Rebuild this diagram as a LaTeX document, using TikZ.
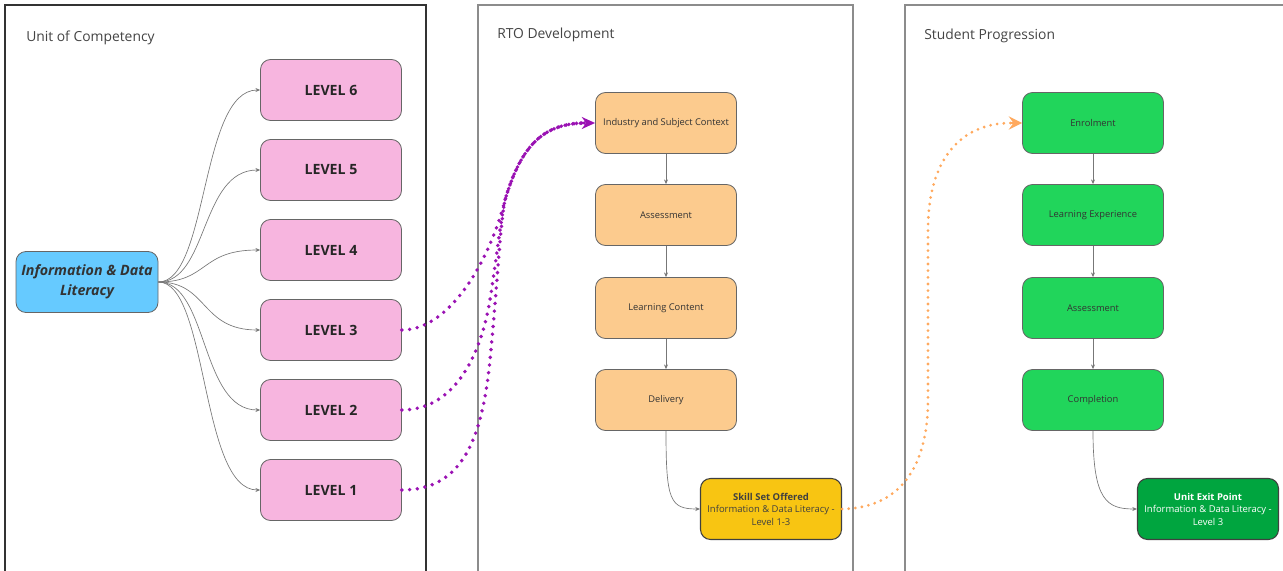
\documentclass[tikz,border=0pt]{standalone}
\usepackage{fontspec}
\setmainfont{Open Sans}
\usetikzlibrary{arrows.meta}
\definecolor{panelA}{HTML}{333333}
\definecolor{panelB}{HTML}{8C8C8C}
\definecolor{txtgray}{HTML}{444444}
\definecolor{pinkfill}{HTML}{F7B5DF}
\definecolor{bluefill}{HTML}{66CAFF}
\definecolor{orangefill}{HTML}{FCCB8E}
\definecolor{yellowfill}{HTML}{F8C512}
\definecolor{greenfill}{HTML}{21D55B}
\definecolor{darkgreen}{HTML}{00A53F}
\definecolor{purplelink}{HTML}{9A12B3}
\definecolor{orangelink}{HTML}{FFA95E}
\definecolor{linkgray}{HTML}{777777}
\tikzset{
  box/.style={draw=black!60, line width=0.6pt, rounded corners=7.5pt,
    minimum width=141*0.75pt, minimum height=61*0.75pt, inner sep=2pt,
    align=center, text=black!80},
  levelbox/.style={box, fill=pinkfill, font=\bfseries\fontsize{10.6}{12}\selectfont, text=black!85},
  stagebox/.style={box, fill=orangefill, font=\fontsize{7}{8}\selectfont},
  studentbox/.style={box, fill=greenfill, font=\fontsize{7}{8}\selectfont},
  outcomebox/.style={box, draw=black!75, line width=0.8pt, font=\fontsize{7.1}{9.4}\selectfont},
  panel/.style={line width=0.8pt},
  paneltitle/.style={anchor=base west, inner sep=0pt, font=\fontsize{10.4}{12}\selectfont, text=txtgray},
  feed/.style={draw=linkgray, line width=0.5pt, -{Stealth[length=3.5pt,width=3pt]}},
  purpledots/.style={draw=purplelink, line width=2.9pt, line cap=round,
    dash pattern=on 0pt off 5.8pt},
  orangedots/.style={draw=orangelink, line width=2.3pt, line cap=round,
    dash pattern=on 0pt off 5pt}
}
\begin{document}
\begin{tikzpicture}[x=0.75pt,y=-0.75pt]
\useasboundingbox (0,0) rectangle (1283,571);
\begin{scope}
\clip (0,0) rectangle (1283,571);
% swim-lane panels
\draw[panel, draw=panelA] (5,580) -- (5,5) -- (426,5) -- (426,580);
\draw[panel, draw=panelB] (478,580) -- (478,5) -- (853,5) -- (853,580);
\draw[panel, draw=panelB] (905,580) -- (905,5) -- (1300,5);
\end{scope}

\node[paneltitle] (t1) at (26,41) {Unit of Competency};
\node[paneltitle] (t2) at (497,38) {RTO Development};
\node[paneltitle] (t3) at (924,39) {Student Progression};

% unit of competency
\node[box, fill=bluefill, minimum width=142*0.75pt, font=\bfseries\itshape\fontsize{10.7}{15}\selectfont, text=black!80]
  (info) at (87,282) {Information \& Data\\Literacy};
\node[levelbox] (l6) at (331,90) {LEVEL 6};
\node[levelbox] (l5) at (331,170) {LEVEL 5};
\node[levelbox] (l4) at (331,250) {LEVEL 4};
\node[levelbox] (l3) at (331,330) {LEVEL 3};
\node[levelbox] (l2) at (331,410) {LEVEL 2};
\node[levelbox] (l1) at (331,490) {LEVEL 1};

\foreach \n in {l6,l5,l4,l3,l2,l1}{
  \draw[feed] (info.east) .. controls +(50,0) and +(-60,0) .. (\n.west);
}

% RTO development
\node[stagebox] (ctx) at (666,123) {Industry and Subject Context};
\node[stagebox] (ras) at (666,215) {Assessment};
\node[stagebox] (lc) at (666,308) {Learning Content};
\node[stagebox] (del) at (666,400) {Delivery};
\node[outcomebox, fill=yellowfill, text=black!75]
  (skill) at (771,509) {\textbf{Skill Set Offered}\\Information \& Data Literacy -\\Level 1-3};
\draw[feed] (ctx) -- (ras);
\draw[feed] (ras) -- (lc);
\draw[feed] (lc) -- (del);
\draw[feed] (del.south) .. controls +(0,70) and +(-30,0) .. (skill.west);

% student progression
\node[studentbox] (enr) at (1093,123) {Enrolment};
\node[studentbox] (lex) at (1093,215) {Learning Experience};
\node[studentbox] (sas) at (1093,308) {Assessment};
\node[studentbox] (cmp) at (1093,400) {Completion};
\node[outcomebox, fill=darkgreen, text=white]
  (exit) at (1208,509) {\textbf{Unit Exit Point}\\Information \& Data Literacy -\\Level 3};
\draw[feed] (enr) -- (lex);
\draw[feed] (lex) -- (sas);
\draw[feed] (sas) -- (cmp);
\draw[feed] (cmp.south) .. controls +(0,70) and +(-30,0) .. (exit.west);

% levels 1-3 feed the industry context: the three routes merge before the arrow
\coordinate (merge) at (505,200);
\coordinate (ctxin) at ([xshift=-7pt]ctx.west);
\draw[purpledots] (l3.east) .. controls (450,330) and (490,260) .. (merge)
  .. controls (520,150) and (540,123) .. (ctxin);
\draw[purpledots] (l2.east) .. controls (452,410) and (480,360) .. (490,300)
  .. controls (496,262) and (500,225) .. (merge)
  .. controls (520,150) and (540,123) .. (ctxin);
\draw[purpledots] (l1.east) .. controls (462,490) and (482,440) .. (490,360)
  .. controls (497,290) and (500,225) .. (merge)
  .. controls (520,150) and (540,123) .. (ctxin);
\draw[purplelink, line width=2.6pt, -{Stealth[length=10pt,width=9pt]}] (ctxin) -- (ctx.west);

% the offered skill set leads to enrolment
\coordinate (enrin) at ([xshift=-8pt]enr.west);
\draw[orangedots] (skill.east) .. controls (905,508) and (928,460) .. (928,400)
  -- (928,230) .. controls (928,160) and (960,123) .. (enrin);
\draw[orangelink, line width=2.2pt, -{Stealth[length=10pt,width=10pt,inset=3.5pt]}] (enrin) -- (enr.west);
\end{tikzpicture}
\end{document}
